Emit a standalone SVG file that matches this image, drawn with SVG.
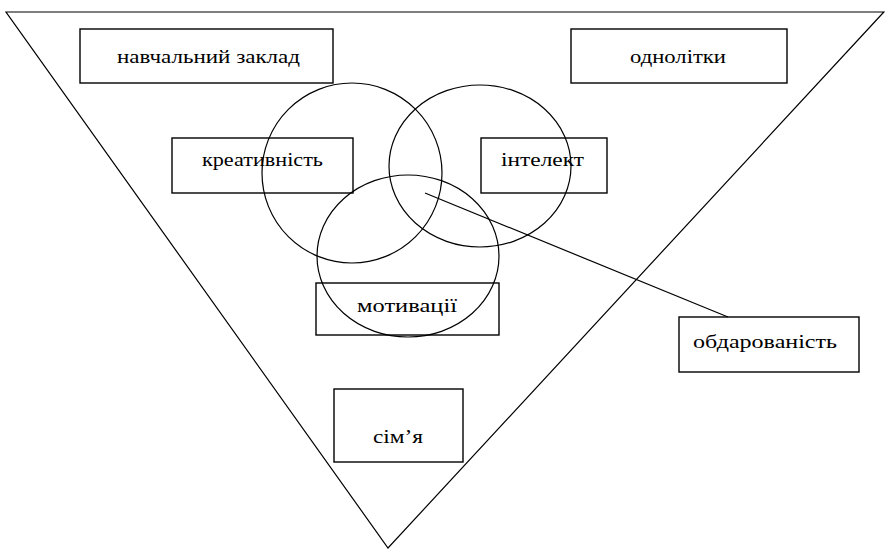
<svg xmlns="http://www.w3.org/2000/svg" width="885" height="550" viewBox="0 0 885 550">
<style>
.box{fill:#fff;stroke:#000;stroke-width:1.4}
.ln{fill:none;stroke:#000;stroke-width:1.2}
.t{font-family:"Liberation Serif","Times New Roman",serif;font-size:18px;fill:#000}
</style>
<rect width="885" height="550" fill="#fff"/>
<g id="triangle"><polygon class="ln" points="6,12 884,12 884,12 882,14 388,548"/></g>
<g id="box-zaklad"><rect class="box" x="80" y="29" width="253" height="54"/><text class="t" x="117" y="63" textLength="183" lengthAdjust="spacingAndGlyphs">навчальний заклад</text></g>
<g id="box-odnolitky"><rect class="box" x="571" y="29" width="216" height="54"/><text class="t" x="630" y="63" textLength="96" lengthAdjust="spacingAndGlyphs">однолітки</text></g>
<g id="box-kreatyvnist"><rect class="box" x="172" y="138" width="181" height="55"/><text class="t" x="202" y="166" textLength="121" lengthAdjust="spacingAndGlyphs">креативність</text></g>
<g id="box-intelekt"><rect class="box" x="481" y="138" width="126" height="55"/><text class="t" x="501" y="166" textLength="83" lengthAdjust="spacingAndGlyphs">інтелект</text></g>
<g id="box-motyvatsii"><rect class="box" x="316" y="283" width="183" height="52"/><text class="t" x="357" y="312" textLength="100" lengthAdjust="spacingAndGlyphs">мотивації</text></g>
<g id="box-obdarovanist"><rect class="box" x="679" y="317" width="180" height="55"/><text class="t" x="693" y="348" textLength="144" lengthAdjust="spacingAndGlyphs">обдарованість</text></g>
<g id="box-simia"><rect class="box" x="334" y="389" width="129" height="73"/><text class="t" x="373" y="443" textLength="50" lengthAdjust="spacingAndGlyphs">сім’я</text></g>
<g id="circles">
<ellipse class="ln" cx="352" cy="173" rx="90" ry="90"/>
<ellipse class="ln" cx="480" cy="166" rx="91" ry="81"/>
<ellipse class="ln" cx="408" cy="256" rx="91" ry="81"/>
</g>
<g id="connectors"><line class="ln" x1="425" y1="193" x2="728" y2="317"/></g>
</svg>
